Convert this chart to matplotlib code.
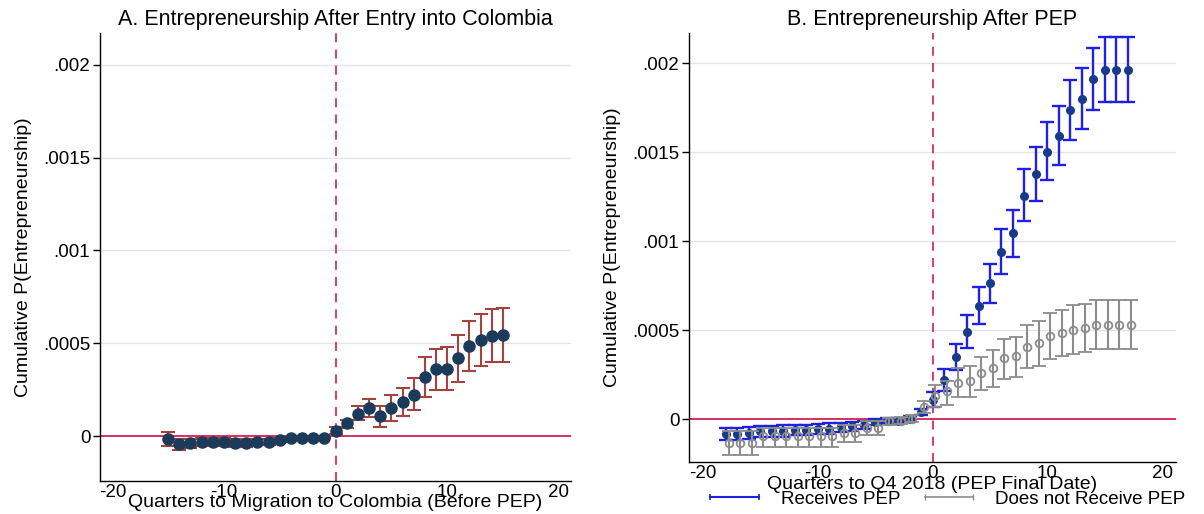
import matplotlib
matplotlib.use("Agg")
import matplotlib.pyplot as plt
from matplotlib.lines import Line2D
from matplotlib.ticker import FixedLocator
import numpy as np

plt.rcParams['font.family'] = ['Liberation Sans', 'DejaVu Sans']

# ---------------- Panel A data ----------------
qa = list(range(-15, 16))
a_est = [-0.000016, -0.000043, -0.000037, -0.00003, -0.00003, -0.00003, -0.000033,
         -0.000033, -0.00003, -0.00003, -0.00002, -0.000011, -0.000011, -0.000011,
         -0.000007, 0.00003, 0.00007, 0.000123, 0.000154, 0.000109, 0.000154,
         0.000184, 0.000225, 0.00032, 0.00036, 0.000365, 0.000422, 0.000484,
         0.000516, 0.000538, 0.000543]
a_lo = [-0.000052, -0.000075, -0.000062, -0.000052, -0.000052, -0.00005, -0.000055,
        -0.000055, -0.000048, -0.000046, -0.000032, -0.00002, -0.000018, -0.000016,
        -0.00001, 0.000015, 0.000045, 0.000086, 0.000104, 0.000052, 0.000082,
        0.000109, 0.000141, 0.000213, 0.000248, 0.000248, 0.000291, 0.00035,
        0.000377, 0.000398, 0.000398]
a_hi = [0.000023, -0.000012, -0.000012, -0.000008, -0.000008, -0.00001, -0.000012,
        -0.000012, -0.000012, -0.000014, -0.000008, -0.000002, -0.000004, -0.000006,
        -0.000004, 0.000048, 0.000087, 0.000166, 0.000202, 0.000166, 0.00022,
        0.00026, 0.000314, 0.000427, 0.00047, 0.00048, 0.000543, 0.000622,
        0.000658, 0.000685, 0.00069]

# ---------------- Panel B data ----------------
qb = list(range(-18, 18))
pep_est = [-0.000081, -0.000081, -0.000078, -0.000068, -0.000068, -0.000066, -0.00006,
           -0.00006, -0.000055, -0.000053, -0.000045, -0.00004, -0.00003, -0.000015,
           -0.000007, -0.000007, 0.000004, 0.000041, 0.000108, 0.000218, 0.000349,
           0.000492, 0.000637, 0.000764, 0.000938, 0.001044, 0.001256, 0.001378,
           0.001504, 0.001593, 0.001735, 0.001797, 0.001912, 0.00196, 0.00196, 0.00196]
pep_lo = [-0.000114, -0.000114, -0.000111, -0.0001, -0.0001, -0.000098, -0.00009,
          -0.00009, -0.000085, -0.000083, -0.00007, -0.000065, -0.000053, -0.00003,
          -0.00002, -0.00002, -0.000009, 0.000022, 0.000068, 0.000158, 0.000274,
          0.000402, 0.000537, 0.000652, 0.000815, 0.000913, 0.001112, 0.001228,
          0.001345, 0.001431, 0.00157, 0.001628, 0.001735, 0.00178, 0.00178, 0.00178]
pep_hi = [-0.000048, -0.000048, -0.000045, -0.000036, -0.000036, -0.000034, -0.00003,
          -0.00003, -0.000025, -0.000023, -0.00002, -0.000015, -0.000007, 0.0,
          0.000006, 0.000006, 0.000017, 0.00006, 0.000154, 0.00028, 0.000424,
          0.000584, 0.000744, 0.000875, 0.001069, 0.001176, 0.001405, 0.001532,
          0.001669, 0.001758, 0.001908, 0.001974, 0.002088, 0.002145, 0.002145, 0.002145]

nopep_est = [-0.000133, -0.000133, -0.000133, -0.000096, -0.000096, -0.000096, -0.000096,
             -0.000096, -0.000096, -0.000096, -0.000077, -0.000077, -0.000049, -0.000049,
             -0.000011, -0.000007, 0.000004, 0.000068, 0.00013, 0.000158, 0.000201,
             0.000214, 0.000259, 0.000287, 0.000342, 0.000353, 0.000407, 0.00043,
             0.000466, 0.000485, 0.000501, 0.000511, 0.00053, 0.00053, 0.00053, 0.00053]
nopep_lo = [-0.0002, -0.0002, -0.0002, -0.000156, -0.000156, -0.000156, -0.000156,
            -0.000156, -0.000156, -0.000156, -0.000128, -0.000128, -0.000086, -0.000086,
            -0.00003, -0.000025, -0.000015, 0.000036, 0.00007, 0.000079, 0.000124,
            0.000124, 0.000162, 0.000182, 0.000229, 0.000237, 0.000289, 0.000299,
            0.000336, 0.000353, 0.000364, 0.000377, 0.000393, 0.000393, 0.000393, 0.000393]
nopep_hi = [-0.000066, -0.000066, -0.000066, -0.000049, -0.000049, -0.000049, -0.000049,
            -0.000049, -0.000049, -0.000049, -0.00003, -0.00003, -0.000012, -0.000012,
            0.000008, 0.000011, 0.000023, 0.0001, 0.00019, 0.000215, 0.000286,
            0.000299, 0.000351, 0.000389, 0.000452, 0.000464, 0.00053, 0.000552,
            0.000595, 0.000616, 0.00064, 0.000646, 0.000669, 0.000669, 0.000669, 0.000669]

yticks = [0, 0.0005, 0.001, 0.0015, 0.002]
ytick_labels = ['0', '.0005', '.001', '.0015', '.002']
xticks = [-20, -10, 0, 10, 20]

title_a = "A. Entrepreneurship After Entry into Colombia"
title_b = "B. Entrepreneurship After PEP"
xlabel_a = "Quarters to Migration to Colombia (Before PEP)"
xlabel_b = "Quarters to Q4 2018 (PEP Final Date)"
ylabel = "Cumulative P(Entrepreneurship)"
legend_labels = ["Receives PEP", "Does not Receive PEP"]

RED = '#d5305d'
GRID = '#e4e4e4'

fig = plt.figure(figsize=(12.04, 5.14), dpi=100)
axA = fig.add_axes([0.0831, 0.0642, 0.3912, 0.8716])
axB = fig.add_axes([0.5723, 0.1012, 0.4045, 0.8346])


def style(ax, xl):
    ax.set_xlim(*xl)
    ax.set_ylim(-0.00024, 0.00217)
    for s in ['top', 'right']:
        ax.spines[s].set_visible(False)
    for s in ['left', 'bottom']:
        ax.spines[s].set_linewidth(1.0)
        ax.spines[s].set_color('black')
    ax.yaxis.set_major_locator(FixedLocator(yticks))
    ax.set_yticklabels(ytick_labels)
    ax.set_xticks(xticks)
    ax.set_xticklabels([str(t) for t in xticks])
    ax.tick_params(axis='y', length=5, width=1, labelsize=13.5, pad=2)
    ax.tick_params(axis='x', length=0, labelsize=13.5, pad=2)
    for t in yticks[1:]:
        ax.axhline(t, color=GRID, lw=0.9, zorder=0)
    ax.axhline(0, color=RED, lw=1.4, zorder=1)
    ax.axvline(0, color=RED, lw=1.3, ls=(0, (5, 4)), zorder=1)
    ax.set_ylabel(ylabel, fontsize=14, labelpad=8)


# Panel A
style(axA, (-21.1, 21.1))
ea = np.array(a_est)
axA.errorbar(qa, ea, yerr=[ea - np.array(a_lo), np.array(a_hi) - ea], fmt='o',
             color='#1c3b5a', ms=8, ecolor='#a3423f', elinewidth=1.5,
             capsize=5, capthick=1.5, zorder=3)
axA.set_title(title_a, fontsize=15.5, pad=6)
axA.set_xlabel(xlabel_a, fontsize=14, labelpad=-5)

# Panel B
style(axB, (-21.2, 21.2))
eb = np.array(pep_est)
axB.errorbar(qb, eb, yerr=[eb - np.array(pep_lo), np.array(pep_hi) - eb], fmt='o',
             color='#173a8a', ms=5.5, ecolor='#1f1fe6', elinewidth=1.7,
             capsize=5, capthick=1.7, zorder=3)
eg = np.array(nopep_est)
qg = np.array(qb) + 0.25
axB.errorbar(qg, eg, yerr=[eg - np.array(nopep_lo), np.array(nopep_hi) - eg], fmt='o',
             mfc='none', mec='#8c8c8c', mew=1.3, ms=5.5, ecolor='#8c8c8c',
             elinewidth=1.5, capsize=5, capthick=1.5, zorder=4)
axB.set_title(title_b, fontsize=15.5, pad=6)
axB.set_xlabel(xlabel_b, fontsize=14, labelpad=-4)

handles = [Line2D([0, 1], [0, 0], color='#1f1fe6', lw=1.5, marker='|', ms=5, mew=1.2),
           Line2D([0, 1], [0, 0], color='#8c8c8c', lw=1.2, marker='|', ms=5, mew=1.0)]
fig.legend(handles, legend_labels, loc='center', bbox_to_anchor=(945 / 1204, 1 - 499 / 514),
           ncol=2, frameon=False, fontsize=13.5, numpoints=2, handlelength=3.2,
           handletextpad=0.85, columnspacing=1.0, borderaxespad=0, borderpad=0)

fig.savefig('out.png', dpi=100)
